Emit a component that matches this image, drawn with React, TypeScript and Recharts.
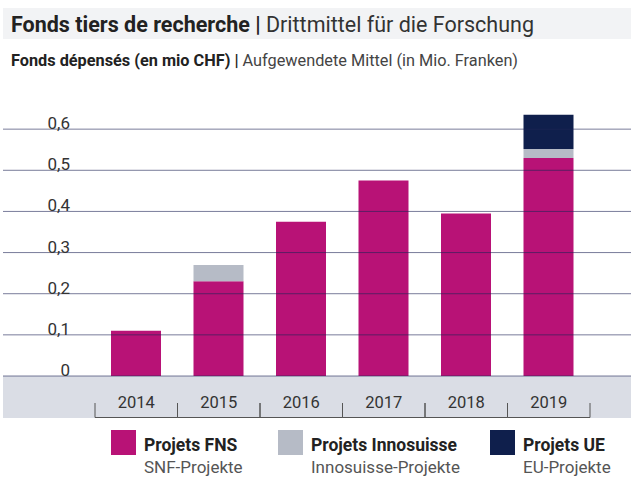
import React from "react";
import { BarChart, Bar, XAxis, YAxis, ReferenceLine } from "recharts";

if (typeof document !== "undefined") document.body.style.margin = "0";

const years = ["2014", "2015", "2016", "2017", "2018", "2019"];
const fnsValues = [0.11, 0.23, 0.375, 0.475, 0.395, 0.53];
const innosuisseValues = [0, 0.04, 0, 0, 0, 0.022];
const ueValues = [0, 0, 0, 0, 0, 0.083];
const yTicks = [0, 0.1, 0.2, 0.3, 0.4, 0.5, 0.6];

const seriesKeys = ["fns", "innosuisse", "ue"];
const seriesNamesFr = ["Projets FNS", "Projets Innosuisse", "Projets UE"];
const seriesNamesDe = ["SNF-Projekte", "Innosuisse-Projekte", "EU-Projekte"];
const seriesColors = ["#B81276", "#B6BBC6", "#0F1F4C"];
const legendLeft = [111, 278, 490];

const data = years.map((year, i) => ({
  year,
  fns: fnsValues[i],
  innosuisse: innosuisseValues[i],
  ue: ueValues[i],
}));

const W = 631;
const H = 482;
const MARGIN = { top: 88, right: 0, bottom: 64, left: 3 };
const X_AXIS_H = 42;
const PAD_L = 92;
const PAD_R = 41;
const PLOT_BOTTOM = H - MARGIN.bottom - X_AXIS_H;
const BAND = (W - MARGIN.left - MARGIN.right - PAD_L - PAD_R) / years.length;
const FONT = "Roboto, 'Noto Sans', sans-serif";

// value label drawn at the left end of each grid line
const YLabel = (props: any) => {
  const y = props.viewBox ? props.viewBox.y : 0;
  return (
    <text
      x={70}
      y={y}
      textAnchor="end"
      fontFamily={FONT}
      fontSize={17}
      fill="#333"
    >
      {String(props.tick).replace(".", ",")}
    </text>
  );
};

const XTick = (props: any) => {
  const { x, payload } = props;
  const left = x - BAND / 2;
  const right = x + BAND / 2;
  const top = PLOT_BOTTOM + 27;
  const bottom = PLOT_BOTTOM + 41.5;
  return (
    <g>
      <text
        x={x}
        y={PLOT_BOTTOM + 32}
        textAnchor="middle"
        fontFamily={FONT}
        fontSize={16.5}
        fill="#333"
      >
        {payload.value}
      </text>
      <path
        d={`M${left},${top}V${bottom}H${right}V${top}`}
        stroke="#555"
        strokeWidth={1}
        fill="none"
      />
    </g>
  );
};

export default function App() {
  return (
    <div style={{ position: "relative", width: W, height: H, fontFamily: FONT }}>
      <div
        style={{
          position: "absolute",
          left: 3,
          top: 8,
          width: W - 3,
          height: 31,
          background: "#F2F3F5",
        }}
      />
      <div
        style={{
          position: "absolute",
          left: 11,
          top: 9,
          lineHeight: "31px",
          fontSize: 21.5,
          color: "#333",
          whiteSpace: "nowrap",
        }}
      >
        <span style={{ fontWeight: 700, color: "#222" }}>Fonds tiers de recherche |</span>{" "}
        Drittmittel für die Forschung
      </div>
      <div
        style={{
          position: "absolute",
          left: 11,
          top: 52,
          lineHeight: "18px",
          fontSize: 16.3,
          color: "#444",
          whiteSpace: "nowrap",
        }}
      >
        <span style={{ fontWeight: 700, color: "#222" }}>Fonds dépensés (en mio CHF) |</span>{" "}
        Aufgewendete Mittel (in Mio. Franken)
      </div>
      <div
        style={{
          position: "absolute",
          left: 3,
          top: PLOT_BOTTOM,
          width: W - 3,
          height: X_AXIS_H,
          background: "#DADDE5",
        }}
      />
      <div style={{ position: "absolute", left: 0, top: 0 }}>
        <BarChart width={W} height={H} data={data} margin={MARGIN} barSize={50}>
          <XAxis
            dataKey="year"
            height={X_AXIS_H}
            axisLine={false}
            tickLine={false}
            padding={{ left: PAD_L, right: PAD_R }}
            interval={0}
            tick={<XTick />}
          />
          <YAxis hide domain={[0, 0.7]} ticks={yTicks} />
          {seriesKeys.map((key, i) => (
            <Bar
              key={key}
              dataKey={key}
              name={seriesNamesFr[i]}
              stackId="a"
              fill={seriesColors[i]}
              isAnimationActive={false}
            />
          ))}
          {yTicks.map((v) => (
            <ReferenceLine
              key={v}
              y={v}
              stroke="#1F2456"
              strokeOpacity={0.6}
              label={<YLabel tick={v} />}
            />
          ))}
        </BarChart>
      </div>
      {seriesKeys.map((key, i) => (
        <div
          key={key}
          style={{
            position: "absolute",
            left: legendLeft[i],
            top: 430,
            display: "flex",
            gap: 8,
            whiteSpace: "nowrap",
          }}
        >
          <div style={{ width: 25, height: 25, background: seriesColors[i] }} />
          <div style={{ marginTop: 5 }}>
            <div style={{ fontSize: 17.5, lineHeight: "20px", fontWeight: 700, color: "#222" }}>
              {seriesNamesFr[i]}
            </div>
            <div style={{ fontSize: 17, lineHeight: "24px", color: "#555" }}>
              {seriesNamesDe[i]}
            </div>
          </div>
        </div>
      ))}
    </div>
  );
}
